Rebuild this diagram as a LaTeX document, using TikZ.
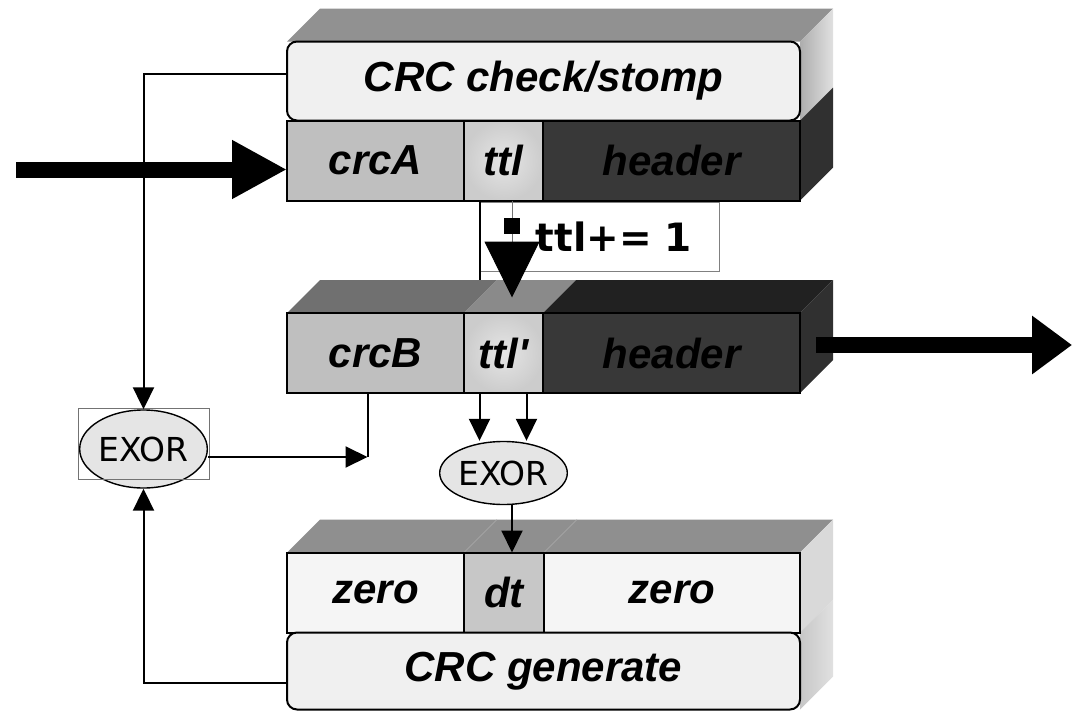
\documentclass[tikz,border=0pt]{standalone}
\usepackage{fontspec}
\setmainfont{Liberation Sans}
\newfontfamily\dejavu{DejaVu Sans}
\usepackage{tikz}
\usetikzlibrary{shapes.geometric, arrows.meta, positioning, calc, backgrounds}

\begin{document}
\begin{tikzpicture}[
    x=1pt, y=-1pt,
    cell/.style={rectangle, draw, line width=2pt, outer sep=0pt, inner sep=0pt, minimum height=80pt, font=\fontsize{42}{42}\selectfont\bfseries\itshape},
    slab/.style={cell, rounded corners=10pt, fill=black!6},
    exor/.style={ellipse, draw, line width=1.4pt, fill=black!10, inner sep=0pt, font=\dejavu\fontsize{33}{33}\selectfont},
    arrow/.style={-{Triangle[length=22pt, width=21pt]}, line width=2pt},
    fat/.style={-{Triangle[length=55pt, width=55pt]}, line width=16pt}
]
    \useasboundingbox (0,0) rectangle (1072,712);
    \coordinate (dp) at (33,-33);

    % Incoming packet
    \node[cell, fill=black!25, minimum width=177pt] (crca) at (375.5,160.5) {crcA};
    \node[cell, inner color=black!10, outer color=black!20, minimum width=79pt, right=0pt of crca] (ttla) {ttl};
    \node[cell, fill=black!78, minimum width=257pt, right=0pt of ttla] (hdra) {header};
    \node[slab, minimum width=513pt, minimum height=79pt, above right=0pt of crca.north west] (chk) {CRC check/stomp};

    % Outgoing packet
    \node[cell, fill=black!25, minimum width=177pt] (crcb) at (375.5,353) {crcB};
    \node[cell, inner color=black!10, outer color=black!20, minimum width=79pt, right=0pt of crcb] (ttlb) {ttl\textquotesingle};
    \node[cell, fill=black!78, minimum width=257pt, right=0pt of ttlb] (hdrb) {header};

    % Delta packet
    \node[cell, fill=black!4, minimum width=177pt] (zrol) at (375.5,592.5) {zero};
    \node[cell, fill=black!22, minimum width=80pt, right=0pt of zrol] (dt) {dt};
    \node[cell, fill=black!4, minimum width=256pt, right=0pt of dt] (zror) {zero};
    \node[slab, minimum width=513pt, minimum height=77pt, below right=0pt of zrol.south west] (gen) {CRC generate};

    % EXOR gates
    \node[exor, minimum width=127pt, minimum height=78pt] (exl) at (143.5,449) {EXOR};
    \draw[black!55, line width=0.8pt] ($(exl.west)+(-1,-41)$) rectangle ($(exl.east)+(1,30)$);
    \node[exor, minimum width=113pt, minimum height=63pt] (exm) at (503.5,473) {EXOR};

    % Increment
    \node[draw=black!50, line width=1pt, minimum width=239pt, minimum height=69pt, inner sep=0pt, text width=185pt, align=right, font=\dejavu\bfseries\fontsize{39}{39}\selectfont] (inc) at (599.5,236.5) {ttl+= 1};

    % 3D faces
    \begin{scope}[on background layer]
        \fill[black!43] (chk.north west) -- ($(chk.north west)+(dp)$) -- ($(chk.north east)+(dp)$) -- (chk.north east) -- cycle;
        \shade[left color=black!32, right color=black!12] (chk.north east) -- ($(chk.north east)+(dp)$) -- ($(chk.south east)+(dp)$) -- (chk.south east) -- cycle;
        \fill[black!81] (hdra.north east) -- ($(hdra.north east)+(dp)$) -- ($(hdra.south east)+(dp)$) -- (hdra.south east) -- cycle;

        \fill[black!56] (crcb.north west) -- ($(crcb.north west)+(dp)$) -- ($(crcb.north east)+(dp)$) -- (crcb.north east) -- cycle;
        \fill[black!46] (ttlb.north west) -- ($(ttlb.north west)+(dp)$) -- ($(ttlb.north east)+(dp)$) -- (ttlb.north east) -- cycle;
        \fill[black!87] (hdrb.north west) -- ($(hdrb.north west)+(dp)$) -- ($(hdrb.north east)+(dp)$) -- (hdrb.north east) -- cycle;
        \fill[black!81] (hdrb.north east) -- ($(hdrb.north east)+(dp)$) -- ($(hdrb.south east)+(dp)$) -- (hdrb.south east) -- cycle;

        \fill[black!44] (zrol.north west) -- ($(zrol.north west)+(dp)$) -- ($(zror.north east)+(dp)$) -- (zror.north east) -- cycle;
        \draw[black!32] (dt.north west) -- ($(dt.north west)+(dp)$) (dt.north east) -- ($(dt.north east)+(dp)$);
        \fill[black!15] (zror.north east) -- ($(zror.north east)+(dp)$) -- ($(zror.south east)+(dp)$) -- (zror.south east) -- cycle;
        \shade[left color=black!22, right color=black!12] (gen.north east) -- ($(gen.north east)+(dp)$) -- ($(gen.south east)+(dp)$) -- (gen.south east) -- cycle;
    \end{scope}

    % Arrows
    \coordinate (src) at (16,169.5);
    \coordinate (dst) at (1072,345);
    \coordinate (join) at ($(crcb.south)+(-8,0)$);
    \coordinate (xout) at ([yshift=-8pt]exl.east);
    \coordinate (bback) at ($(hdrb.north east)+(dp)$);

    \draw[fat] (src) -- ([yshift=-9pt]crca.west);
    \draw[fat, -{Triangle[length=40pt, width=56pt]}] ($(hdrb.east)+(16,-8)$) -- (dst);

    \draw[arrow] ([yshift=7pt]chk.west) -| (exl.north);
    \draw[arrow] ([yshift=-12pt]gen.west) -| (exl.south);
    \draw[line width=2pt] (join) -- (join |- xout);
    \draw[arrow] (xout) -- (join |- xout);

    \draw[arrow] ([xshift=-24pt]ttlb.south) -- ([xshift=-24pt]ttlb.south |- exm.north);
    \draw[arrow] ([xshift=23pt]ttlb.south) -- ([xshift=23pt]ttlb.south |- exm.north);
    \draw[arrow] ([xshift=8.5pt]exm.south) -- ([xshift=8.5pt]exm.south |- dt.north);

    \draw[line width=2pt] ([xshift=-24pt]ttla.south) -- ([xshift=-24pt]ttla.south |- bback);
    \draw[black!55, line width=1pt, -{Triangle[length=56pt, width=55pt, black]}] ([xshift=8.5pt]ttla.south) -- ++(0,97);
    \node[fill=black, minimum size=16pt, inner sep=0pt] (tick) at ($(ttla.south)+(8.5,25)$) {};
\end{tikzpicture}
\end{document}
